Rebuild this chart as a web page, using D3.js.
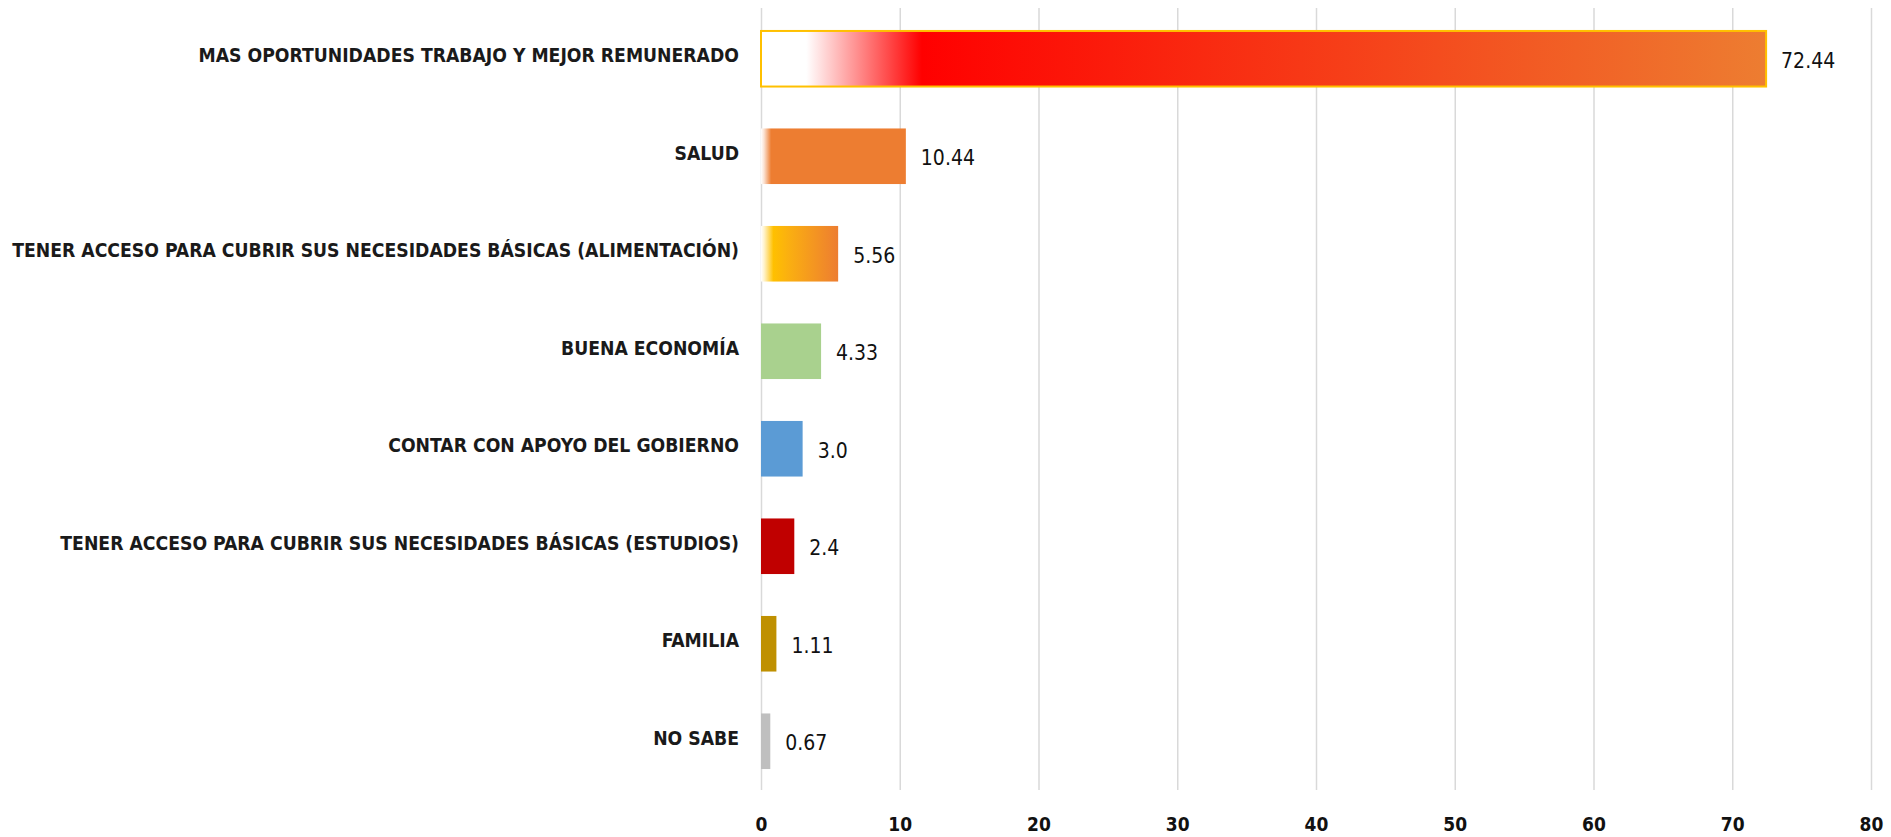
<!DOCTYPE html>
<html>
<head>
<meta charset="utf-8">
<script src="https://cdn.jsdelivr.net/npm/d3@7"></script>
<style>
  body { margin: 0; background: #fff; }
  .cat-label { font-family: "Liberation Sans Narrow", "DejaVu Sans Condensed", "Roboto", sans-serif; font-weight: bold; fill: #1a1a1a; }
  .val-label { font-family: "Liberation Sans Narrow", "DejaVu Sans Condensed", "Roboto", sans-serif; fill: #111; }
  .x-axis text { font-family: "Liberation Sans Narrow", "DejaVu Sans Condensed", "Roboto", sans-serif; font-weight: bold; fill: #111; }
</style>
</head>
<body>
<svg id="chart"></svg>
<script>
// Data
const categories = [
  'MAS OPORTUNIDADES TRABAJO Y MEJOR REMUNERADO',
  'SALUD',
  'TENER ACCESO PARA CUBRIR SUS NECESIDADES BÁSICAS (ALIMENTACIÓN)',
  'BUENA ECONOMÍA',
  'CONTAR CON APOYO DEL GOBIERNO',
  'TENER ACCESO PARA CUBRIR SUS NECESIDADES BÁSICAS (ESTUDIOS)',
  'FAMILIA',
  'NO SABE'
];
const values = [72.44, 10.44, 5.56, 4.33, 3.0, 2.4, 1.11, 0.67];
const valueLabels = ['72.44', '10.44', '5.56', '4.33', '3.0', '2.4', '1.11', '0.67'];
const xTicks = [0, 10, 20, 30, 40, 50, 60, 70, 80];

const width = 1891, height = 837;
const margin = { top: 8, right: 20, bottom: 47, left: 761 };
const innerW = 1871 - margin.left;
const innerH = height - margin.top - margin.bottom;

const svg = d3.select('#chart')
    .attr('width', width)
    .attr('height', height);

// gradients for the first three bars
const defs = svg.append('defs');
const gradients = [
  { id: 'g0', stops: [[0, '#ffffff'], [0.045, '#ffffff'], [0.16, '#ff0000'], [1, '#ed7d31']] },
  { id: 'g1', stops: [[0, '#ffffff'], [0.02, '#fbe3d4'], [0.07, '#ed7d31'], [1, '#ed7d31']] },
  { id: 'g2', stops: [[0, '#ffffff'], [0.04, '#fff3cc'], [0.16, '#ffc000'], [0.35, '#fbb010'], [1, '#ed7d31']] }
];
gradients.forEach(g => {
  const lg = defs.append('linearGradient').attr('id', g.id)
      .attr('x1', 0).attr('x2', 1).attr('y1', 0).attr('y2', 0);
  g.stops.forEach(s => lg.append('stop').attr('offset', s[0]).attr('stop-color', s[1]));
});
const fills = ['url(#g0)', 'url(#g1)', 'url(#g2)', '#a9d18e', '#5b9bd5', '#c00000', '#bf9000', '#bfbfbf'];

const chart = svg.append('g')
    .attr('transform', `translate(${margin.left},${margin.top})`);

const xScale = d3.scaleLinear().domain([0, 80]).range([0, innerW]);
const yScale = d3.scaleBand()
    .domain(categories)
    .range([2, innerH])
    .paddingInner(0.43)
    .paddingOuter(0.215);

// x axis with gridlines
const xAxis = d3.axisBottom(xScale)
    .tickValues(xTicks)
    .tickSize(-innerH)
    .tickPadding(28);

const xAxisG = chart.append('g')
    .attr('class', 'axis x-axis')
    .attr('transform', `translate(0,${innerH})`)
    .call(xAxis);
xAxisG.select('.domain').remove();
xAxisG.selectAll('.tick line')
    .attr('stroke', '#d9d9d9')
    .attr('stroke-width', 1.5);
xAxisG.selectAll('text')
    .style('font-size', '19px');

// bars
chart.selectAll('.bar')
    .data(values)
    .join('rect')
    .attr('class', 'bar')
    .attr('x', xScale(0))
    .attr('y', (d, i) => yScale(categories[i]))
    .attr('width', d => xScale(d) - xScale(0))
    .attr('height', yScale.bandwidth())
    .attr('fill', (d, i) => fills[i])
    .attr('stroke', (d, i) => i === 0 ? '#ffc000' : null)
    .attr('stroke-width', (d, i) => i === 0 ? 2 : null);

// value labels
chart.selectAll('.val-label')
    .data(values)
    .join('text')
    .attr('class', 'val-label')
    .attr('x', d => xScale(d) + 15)
    .attr('y', (d, i) => yScale(categories[i]) + yScale.bandwidth() / 2 + 2)
    .attr('dominant-baseline', 'central')
    .style('font-size', '21px')
    .text((d, i) => valueLabels[i]);

// category labels
chart.selectAll('.cat-label')
    .data(categories)
    .join('text')
    .attr('class', 'cat-label')
    .attr('x', -22)
    .attr('y', d => yScale(d) + yScale.bandwidth() / 2 - 3)
    .attr('text-anchor', 'end')
    .attr('dominant-baseline', 'central')
    .style('font-size', '19.2px')
    .text(d => d);
</script>
</body>
</html>
